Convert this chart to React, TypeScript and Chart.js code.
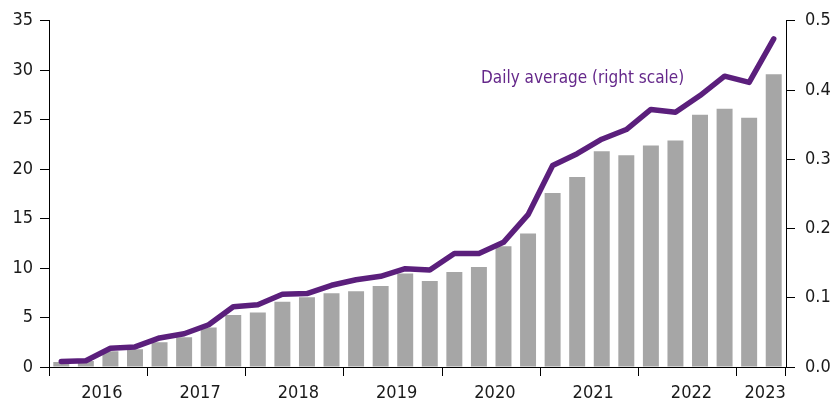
import React, { useEffect, useRef } from "react";
import { Chart, registerables } from "chart.js";

Chart.register(...registerables);

const quarters = [
  "2016Q1", "2016Q2", "2016Q3", "2016Q4",
  "2017Q1", "2017Q2", "2017Q3", "2017Q4",
  "2018Q1", "2018Q2", "2018Q3", "2018Q4",
  "2019Q1", "2019Q2", "2019Q3", "2019Q4",
  "2020Q1", "2020Q2", "2020Q3", "2020Q4",
  "2021Q1", "2021Q2", "2021Q3", "2021Q4",
  "2022Q1", "2022Q2", "2022Q3", "2022Q4",
  "2023Q1", "2023Q2",
];

const yearLabels = ["2016", "2017", "2018", "2019", "2020", "2021", "2022", "2023"];

// Left scale (bars)
const totalValues = [
  0.5, 0.6, 1.6, 1.8,
  2.5, 3.0, 4.0, 5.25,
  5.5, 6.6, 7.05, 7.45,
  7.65, 8.2, 9.45, 8.7,
  9.6, 10.1, 12.2, 13.5,
  17.6, 19.2, 21.8, 21.4,
  22.4, 22.9, 25.5, 26.1,
  25.2, 29.6,
];

// Right scale (line)
const dailyAverage = [
  0.008, 0.009, 0.027, 0.029,
  0.042, 0.048, 0.061, 0.087,
  0.09, 0.105, 0.106, 0.118,
  0.126, 0.131, 0.142, 0.14,
  0.164, 0.164, 0.18, 0.22,
  0.291, 0.308, 0.329, 0.343,
  0.372, 0.368, 0.392, 0.42,
  0.411, 0.474,
];

const leftTicks = [0, 5, 10, 15, 20, 25, 30, 35];
const rightTicks = [0, 0.1, 0.2, 0.3, 0.4, 0.5];
const lineLabel = "Daily average (right scale)";

const FONT = "'DejaVu Sans Condensed', 'DejaVu Sans', sans-serif";

export default function App() {
  const ref = useRef<HTMLCanvasElement>(null);

  useEffect(() => {
    if (!ref.current) return;
    const textPlugin = {
      id: "lineLabel",
      afterDatasetsDraw(chart: any) {
        const ctx = chart.ctx;
        ctx.save();
        ctx.font = `17px ${FONT}`;
        ctx.fillStyle = "#65288a";
        ctx.textAlign = "left";
        ctx.textBaseline = "alphabetic";
        ctx.fillText(lineLabel, 481, 83);
        ctx.restore();
      },
    };

    const chart = new Chart(ref.current, {
      type: "bar",
      data: {
        labels: quarters,
        datasets: [
          {
            type: "line",
            label: lineLabel,
            data: dailyAverage,
            yAxisID: "y1",
            borderColor: "#5b1f7c",
            backgroundColor: "#5b1f7c",
            borderWidth: 5.5,
            pointRadius: 0,
            tension: 0,
            borderCapStyle: "round",
            borderJoinStyle: "round",
            order: 0,
          } as any,
          {
            type: "bar",
            label: "Total",
            data: totalValues,
            yAxisID: "y",
            backgroundColor: "#a6a6a6",
            barPercentage: 0.65,
            categoryPercentage: 1,
            order: 1,
          },
        ],
      },
      options: {
        animation: false,
        responsive: false,
        maintainAspectRatio: false,
        layout: { padding: { top: 18, left: 0, right: 0, bottom: 0 } },
        plugins: {
          legend: { display: false },
          tooltip: { enabled: false },
        },
        scales: {
          x: {
            type: "category",
            offset: true,
            afterFit: (s: any) => {
              s.height = 38;
            },
            border: { display: true, color: "#000", width: 1 },
            grid: {
              offset: true,
              drawOnChartArea: false,
              drawTicks: true,
              tickLength: 9,
              color: (c: any) =>
                c.type !== "tick" || c.index % 4 === 0 ? "#000" : "rgba(0,0,0,0)",
            },
            ticks: {
              autoSkip: false,
              maxRotation: 0,
              minRotation: 0,
              labelOffset: 16,
              padding: 7,
              color: "#1a1a1a",
              font: { family: FONT, size: 18 },
              callback: (_v: any, i: number) => {
                if (i === 28) return yearLabels[7];
                if (i % 4 === 1 && i < 28) return yearLabels[(i - 1) / 4];
                return "";
              },
            },
          },
          y: {
            position: "left",
            min: 0,
            max: 35,
            afterFit: (s: any) => {
              s.width = 49;
            },
            afterBuildTicks: (s: any) => {
              s.ticks = leftTicks.map((v) => ({ value: v }));
            },
            border: { display: true, color: "#000", width: 1 },
            grid: {
              drawOnChartArea: false,
              drawTicks: true,
              tickLength: 9,
              color: "#000",
            },
            ticks: {
              padding: 7,
              color: "#1a1a1a",
              font: { family: FONT, size: 18 },
            },
          },
          y1: {
            position: "right",
            min: 0,
            max: 0.5,
            afterFit: (s: any) => {
              s.width = 49;
            },
            afterBuildTicks: (s: any) => {
              s.ticks = rightTicks.map((v) => ({ value: v }));
            },
            border: { display: true, color: "#000", width: 1 },
            grid: {
              drawOnChartArea: false,
              drawTicks: true,
              tickLength: 9,
              color: "#000",
            },
            ticks: {
              padding: 10,
              color: "#1a1a1a",
              font: { family: FONT, size: 18 },
              callback: (v: any) => Number(v).toFixed(1),
            },
          },
        },
      },
      plugins: [textPlugin],
    });
    return () => chart.destroy();
  }, []);

  return (
    <div style={{ position: "fixed", left: 0, top: 0, width: 835, height: 405, background: "#fff" }}>
      <canvas ref={ref} width={835} height={405} style={{ width: 835, height: 405 }} />
    </div>
  );
}
